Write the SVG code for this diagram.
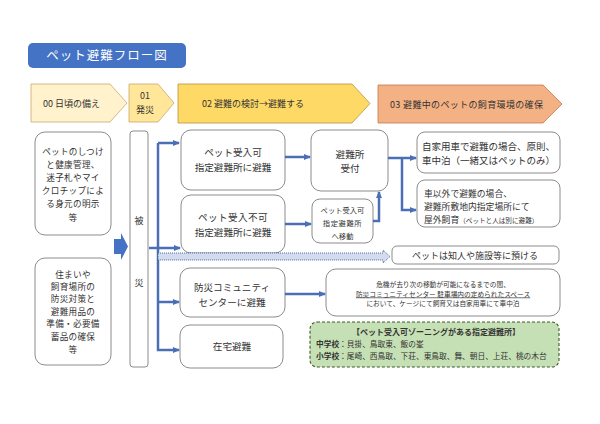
<svg xmlns="http://www.w3.org/2000/svg" width="600" height="424" viewBox="0 0 600 424">
<defs>
<style>
text{font-family:"Noto Sans CJK JP","Noto Sans",sans-serif;fill:#333;}
.box{fill:#fff;stroke:#7f7f7f;stroke-width:0.9;}
.con{fill:none;stroke:#4a6fb5;stroke-width:2.5;}
.hd{font-size:9px;}
.mid{font-size:9.6px;text-anchor:middle;}
.lft{font-size:8.6px;text-anchor:middle;letter-spacing:0.3px;}
</style>
<marker id="ah" markerUnits="userSpaceOnUse" markerWidth="7" markerHeight="7" viewBox="0 0 7 7" refX="6" refY="3.5" orient="auto">
<path d="M0,0.5 L7,3.5 L0,6.5 z" fill="#4a6fb5"/>
</marker>
</defs>
<rect width="600" height="424" fill="#fff"/>

<g id="title">
<rect x="28" y="43" width="158" height="25" rx="5" fill="#4472c4"/>
<text x="107" y="60" font-size="12.5" text-anchor="middle" letter-spacing="1" style="fill:#fff">ペット避難フロー図</text>
</g>

<g id="h00">
<polygon points="31,84 110,84 127,103 110,122 31,122" fill="#fff2cc" stroke="#c9a86a" stroke-width="0.8"/>
<text class="hd" x="43" y="106.5">00 日頃の備え</text>
</g>
<g id="h01">
<polygon points="129,84 158,84 174,103 158,122 129,122" fill="#ffe699" stroke="#c9a86a" stroke-width="0.8"/>
<text class="hd" x="145" y="99" text-anchor="middle" font-size="8.5">01</text>
<text class="hd" x="145" y="113" text-anchor="middle" font-size="8.5">発災</text>
</g>
<g id="h02">
<polygon points="178,84 352,84 370,103.5 352,123 178,123" fill="#ffd966" stroke="#b8963a" stroke-width="0.8"/>
<text class="hd" x="202" y="107" font-size="9.5">02  避難の検討→避難する</text>
</g>
<g id="h03">
<polygon points="378,85 543,85 562,104 543,123 378,123" fill="#f4b183" stroke="#c0784a" stroke-width="0.8"/>
<text class="hd" x="390" y="107.5" letter-spacing="0.35">03  避難中のペットの飼育環境の確保</text>
</g>

<g id="prep1">
<rect class="box" x="35" y="132" width="76" height="103" rx="10"/>
<text class="lft" x="73" y="155">ペットのしつけ</text>
<text class="lft" x="73" y="168">と健康管理、</text>
<text class="lft" x="73" y="181">迷子札やマイ</text>
<text class="lft" x="73" y="194">クロチップによ</text>
<text class="lft" x="73" y="207">る身元の明示</text>
<text class="lft" x="73" y="221">等</text>
</g>
<g id="prep2">
<rect class="box" x="35" y="258" width="76" height="107" rx="10"/>
<text class="lft" x="73" y="278">住まいや</text>
<text class="lft" x="73" y="290">飼育場所の</text>
<text class="lft" x="73" y="302">防災対策と</text>
<text class="lft" x="73" y="315">避難用品の</text>
<text class="lft" x="73" y="327">準備・必要備</text>
<text class="lft" x="73" y="340">蓄品の確保</text>
<text class="lft" x="73" y="353">等</text>
</g>
<g id="bigarrow">
<polygon points="114,239 121,239 121,233 128,246.5 121,260 121,254 114,254" fill="#4472c4"/>
</g>
<g id="hisai">
<rect class="box" x="130" y="131" width="18" height="236" rx="3"/>
<text x="139" y="224" font-size="9" text-anchor="middle">被</text>
<text x="139" y="286" font-size="9" text-anchor="middle">災</text>
</g>

<g id="okShelter">
<rect class="box" x="181" y="130" width="104" height="60" rx="10"/>
<text class="mid" x="233" y="156">ペット受入可</text>
<text class="mid" x="233" y="171">指定避難所に避難</text>
</g>
<g id="ngShelter">
<rect class="box" x="181" y="195" width="104" height="58" rx="10"/>
<text class="mid" x="233" y="221" letter-spacing="0.4">ペット受入不可</text>
<text class="mid" x="233" y="236">指定避難所に避難</text>
</g>
<g id="community">
<rect class="box" x="180" y="268" width="105" height="49" rx="10"/>
<text class="mid" x="232" y="291">防災コミュニティ</text>
<text class="mid" x="232" y="306">センターに避難</text>
</g>
<g id="home">
<rect class="box" x="180" y="325" width="103" height="43" rx="10"/>
<text class="mid" x="232" y="350">在宅避難</text>
</g>

<g id="reception">
<rect class="box" x="311" y="130" width="77" height="61" rx="10"/>
<text class="mid" x="350" y="158">避難所</text>
<text class="mid" x="350" y="172">受付</text>
</g>
<g id="move">
<rect class="box" x="312" y="199" width="61" height="44" rx="8"/>
<text x="342.5" y="213" font-size="7.3" text-anchor="middle">ペット受入可</text>
<text x="342.5" y="226" font-size="7.3" text-anchor="middle" letter-spacing="0.6">指定避難所</text>
<text x="342.5" y="239" font-size="7.3" text-anchor="middle">へ移動</text>
</g>

<g id="carStay">
<rect class="box" x="417" y="132" width="143" height="41" rx="8"/>
<text x="488.5" y="150" font-size="9.5" text-anchor="middle">自家用車で避難の場合、原則、</text>
<text x="488.5" y="164" font-size="9.5" text-anchor="middle">車中泊（一緒又はペットのみ）</text>
</g>
<g id="outdoor">
<rect class="box" x="417" y="180" width="143" height="47" rx="8"/>
<text x="424" y="197" font-size="8.8">車以外で避難の場合、</text>
<text x="424" y="210" font-size="8.8">避難所敷地内指定場所にて</text>
<text x="424" y="223" font-size="8.8">屋外飼育<tspan font-size="6.6">（ペットと人は別に避難）</tspan></text>
</g>

<g id="entrust">
<rect class="box" x="392" y="246" width="167" height="18" rx="5"/>
<text x="475" y="258.5" font-size="9" text-anchor="middle">ペットは知人や施設等に預ける</text>
</g>

<g id="note">
<rect class="box" x="326" y="269" width="234" height="47" rx="10"/>
<text x="443" y="287" font-size="6.7" text-anchor="middle">危機が去り次の移動が可能になるまでの間、</text>
<text x="443" y="296.5" font-size="6.7" text-anchor="middle" text-decoration="underline">防災コミュニティセンター  駐車場内の定められたスペース</text>
<text x="443" y="306" font-size="6.7" text-anchor="middle">において、ケージにて飼育又は自家用車にて車中泊</text>
</g>

<g id="zoning">
<rect x="310" y="322" width="249" height="45" rx="7" fill="#c5e0b4" stroke="#3f5a2a" stroke-width="1.1" stroke-dasharray="3,2"/>
<text x="436" y="335" font-size="8" font-weight="bold" text-anchor="middle">【ペット受入可ゾーニングがある指定避難所】</text>
<text x="316" y="347" font-size="7.7"><tspan font-weight="bold">中学校</tspan>：貝掛、鳥取東、飯の峯</text>
<text x="316" y="358.5" font-size="7.7"><tspan font-weight="bold">小学校</tspan>：尾崎、西鳥取、下荘、東鳥取、舞、朝日、上荘、桃の木台</text>
</g>

<g id="connectors">
<polyline class="con" points="158,143 158,350 179,350" marker-end="url(#ah)"/>
<line class="con" x1="158" y1="143" x2="179" y2="143" marker-end="url(#ah)"/>
<line class="con" x1="149" y1="248" x2="180" y2="248" marker-end="url(#ah)"/>
<line class="con" x1="158" y1="302" x2="179" y2="302" marker-end="url(#ah)"/>
<line class="con" x1="285" y1="157" x2="310" y2="157" marker-end="url(#ah)"/>
<line class="con" x1="285" y1="224" x2="311" y2="224" marker-end="url(#ah)"/>
<polyline class="con" points="373,221 379,221 379,192" marker-end="url(#ah)"/>
<line class="con" x1="388" y1="158" x2="416" y2="158" marker-end="url(#ah)"/>
<polyline class="con" points="402,158 402,210 416,210" marker-end="url(#ah)"/>
<line class="con" x1="285" y1="294" x2="325" y2="294" marker-end="url(#ah)"/>
<polygon points="158,253 383,253 383,250 390,256.5 383,263 383,260 158,260" fill="#d3dcef" stroke="#2f4f8a" stroke-width="0.8" stroke-dasharray="1,1"/>
</g>
</svg>
